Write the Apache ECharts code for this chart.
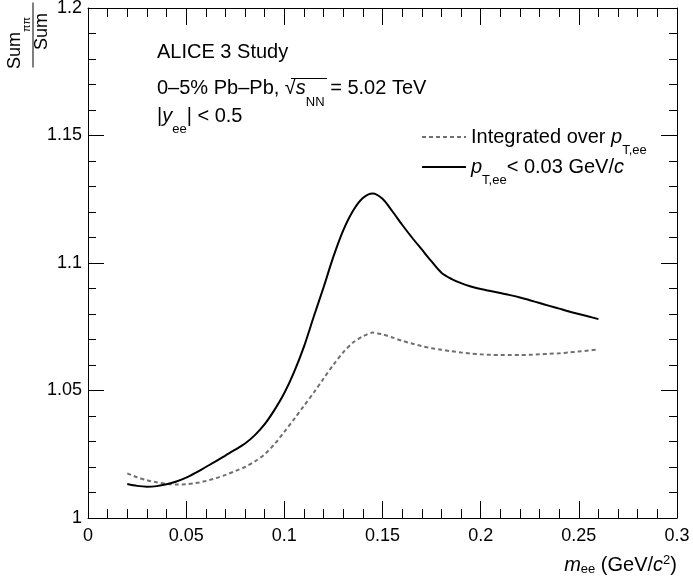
<!DOCTYPE html>
<html><head><meta charset="utf-8">
<script src="https://cdn.jsdelivr.net/npm/echarts@6/dist/echarts.min.js"></script>
<style>html,body{margin:0;padding:0;background:#fff}#c{width:693px;height:580px}</style>
</head><body><div id="c"></div>
<script>
// m_ee (GeV/c^2)
const massX = [0.020,0.025,0.030,0.035,0.040,0.045,0.050,0.055,0.060,0.065,0.070,0.075,0.080,0.085,0.090,0.095,0.100,0.105,0.110,0.115,0.120,0.125,0.130,0.135,0.140,0.145,0.150,0.155,0.160,0.165,0.170,0.175,0.180,0.185,0.190,0.195,0.200,0.205,0.210,0.215,0.220,0.225,0.230,0.235,0.240,0.245,0.250,0.255,0.260];
// Integrated over pT,ee (dashed)
const ratioIntegrated = [1.0175,1.0160,1.0148,1.0140,1.0134,1.0131,1.0132,1.0137,1.0145,1.0156,1.0169,1.0184,1.0200,1.0222,1.0250,1.0290,1.0338,1.0388,1.0440,1.0492,1.0547,1.0601,1.0650,1.0688,1.0712,1.0727,1.0720,1.0708,1.0695,1.0684,1.0674,1.0666,1.0660,1.0654,1.0649,1.0645,1.0642,1.0640,1.0639,1.0639,1.0639,1.0640,1.0642,1.0644,1.0646,1.0649,1.0653,1.0657,1.0661];
// pT,ee < 0.03 GeV/c (solid)
const ratioLowPt = [1.0133,1.0126,1.0123,1.0125,1.0132,1.0143,1.0158,1.0178,1.0200,1.0222,1.0245,1.0268,1.0292,1.0325,1.0368,1.0424,1.0490,1.0573,1.0672,1.0790,1.0905,1.1025,1.1128,1.1205,1.1255,1.1273,1.1252,1.1203,1.1150,1.1100,1.1053,1.1006,1.0962,1.0938,1.0921,1.0908,1.0898,1.0890,1.0882,1.0874,1.0865,1.0854,1.0843,1.0832,1.0821,1.0810,1.0800,1.0790,1.0780];
const xTickLabels = ['0','0.05','0.1','0.15','0.2','0.25','0.3'];
const yTickLabels = ['1','1.05','1.1','1.15','1.2'];
const seriesNames = ['Integrated over pT,ee','pT,ee < 0.03 GeV/c'];
const legendTexts = ['{n|Integrated over }{i|p}{s|T,ee}', '{i|p}{s|T,ee}{n|< 0.03 GeV/}{i|c}'];

const FONT = '"Liberation Sans", Arial, Helvetica, sans-serif';
const chart = echarts.init(document.getElementById('c'));

function axisCommon(showLabel, pos, isX) {
  const labels = isX ? xTickLabels : yTickLabels;
  return {
    type:'value', position: pos, gridIndex:0,
    min: isX ? 0 : 1, max: isX ? 0.3 : 1.2, interval: 0.05,
    axisLine:{show:true, onZero:false, lineStyle:{color:'#000'}},
    axisTick:{show:true, inside:true, length: isX ? 17 : 16, lineStyle:{color:'#000'}},
    minorTick:{show:true, splitNumber:5, length: isX ? 9 : 8, lineStyle:{color:'#000'}},
    splitLine:{show:false},
    axisLabel:{
      show: showLabel, color:'#000', fontFamily: FONT, fontSize:18,
      lineHeight: 14,
      margin: isX ? 11 : 6,
      formatter: function(v){
        const s = String(+Number(v).toFixed(2));
        return labels.indexOf(s) >= 0 ? s : '';
      }
    }
  };
}

const base = {fontFamily:FONT, color:'#000', fontWeight:'normal'};
const rich = {
  n:Object.assign({}, base, {fontSize:20, lineHeight:40, verticalAlign:'middle'}),
  i:Object.assign({}, base, {fontSize:20, fontStyle:'italic', lineHeight:40, verticalAlign:'middle'}),
  s:Object.assign({}, base, {fontSize:13, lineHeight:12, verticalAlign:'bottom'})
};
const richX = {
  n:Object.assign({}, base, {fontSize:20, lineHeight:22, verticalAlign:'middle'}),
  i:Object.assign({}, base, {fontSize:20, fontStyle:'italic', lineHeight:22, verticalAlign:'middle'}),
  s:Object.assign({}, base, {fontSize:13, lineHeight:6, verticalAlign:'bottom'}),
  p:Object.assign({}, base, {fontSize:13, lineHeight:14, verticalAlign:'top'})
};
const richY = {
  ny:Object.assign({}, base, {fontSize:18, lineHeight:34, verticalAlign:'middle'}),
  nys:Object.assign({}, base, {fontSize:11, lineHeight:12, verticalAlign:'bottom'}),
  g1:{width:16, fontSize:8, lineHeight:34},
  bar:{width:65, height:1, lineHeight:2, fontSize:1, backgroundColor:'#000'},
  g2:{width:7, fontSize:8, lineHeight:16},
  den:Object.assign({}, base, {fontSize:18, lineHeight:16, verticalAlign:'middle'})
};

function ttl(opt, text, r) {
  return Object.assign({text:text, padding:0, itemGap:0,
    textStyle:{fontFamily:FONT, fontWeight:'normal', color:'#000', fontSize:20, rich:r||rich}}, opt);
}

const option = {
  animation:false,
  title:[
    ttl({left:157, top:32.5}, '{n|ALICE 3 Study}'),
    ttl({left:157, top:68.5}, '{n|0–5% Pb–Pb, √}{i|s}{s|NN}{n| = 5.02 TeV}'),
    ttl({left:291, top:78}, '{o| }', {o:{width:36, height:1, lineHeight:1, fontSize:1, backgroundColor:'#000'}}),
    ttl({left:157, top:96}, '{n||}{i|y}{s|ee}{n|| < 0.5}'),
    ttl({right:16, top:554}, '{i|m}{s|ee}{n| (GeV/}{i|c}{p|2}{n|)}', richX)
  ],
  legend:{
    orient:'vertical', left:421, top:127, padding:0, itemGap:0,
    itemWidth:44, itemHeight:14, selectedMode:false,
    data: seriesNames,
    itemStyle:{color:'rgba(0,0,0,0)', borderColor:'rgba(0,0,0,0)', borderWidth:0, opacity:0},
    formatter: function(name){ return legendTexts[seriesNames.indexOf(name)]; },
    textStyle:{fontFamily:FONT, fontSize:20, color:'#000', rich:rich}
  },
  grid:[
    {left:88, right:16, top:8, bottom:62, containLabel:false, outerBoundsMode:'none'},
    {left:88, top:4, width:1, height:62, containLabel:false, outerBoundsMode:'none'}
  ],
  xAxis:[axisCommon(true,'bottom',true), axisCommon(false,'top',true),
    {type:'value', gridIndex:1, show:false, min:0, max:1}],
  yAxis:[axisCommon(true,'left',false), axisCommon(false,'right',false),
    {type:'value', gridIndex:1, min:0, max:1,
     axisLine:{show:false}, axisTick:{show:false}, axisLabel:{show:false}, splitLine:{show:false},
     name:'{ny|Sum}{nys|ππ}{g1| }\n{bar| }\n{g2| }{den|Sum}',
     nameLocation:'middle', nameGap:38, nameRotate:90,
     nameTextStyle:{fontFamily:FONT, fontWeight:'normal', color:'#000', fontSize:18, align:'center', verticalAlign:'bottom', rich:richY}}
  ],
  series:[
    {name:seriesNames[0], type:'line', symbol:'none', smooth:0.3,
     data: massX.map((x,i)=>[x, ratioIntegrated[i]]),
     lineStyle:{color:'#707070', width:2, type:[4,3]}},
    {name:seriesNames[1], type:'line', symbol:'none', smooth:0.3,
     data: massX.map((x,i)=>[x, ratioLowPt[i]]),
     lineStyle:{color:'#000', width:2}}
  ]
};
chart.setOption(option);
</script>
</body></html>
